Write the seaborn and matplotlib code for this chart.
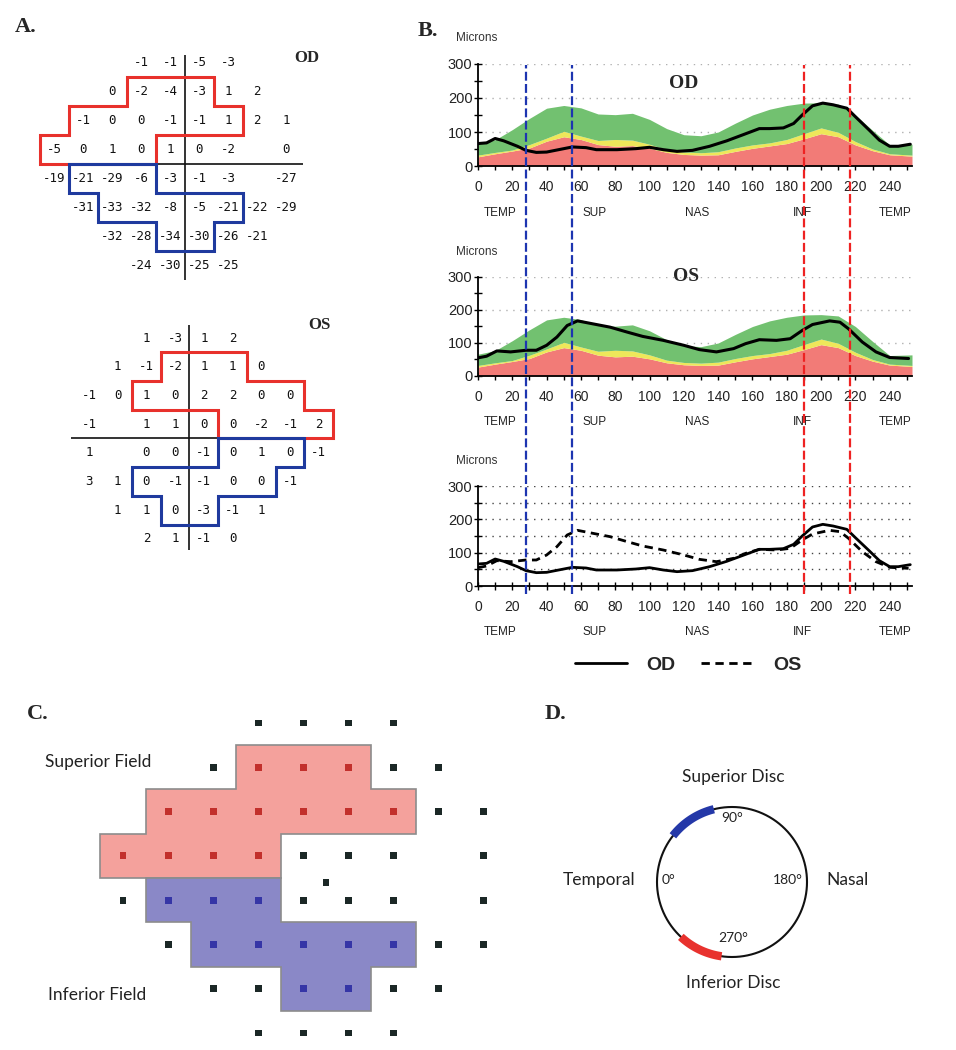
import numpy as np
import matplotlib
matplotlib.use("Agg")
import matplotlib.pyplot as plt
from matplotlib.lines import Line2D
from matplotlib.ticker import MultipleLocator
import seaborn as sns

sns.set_theme(style="white")
plt.rcParams['font.family'] = ['Liberation Sans', 'DejaVu Sans']

# ---- A. pattern deviation values (None = no test point) ----
od_grid = [
    [None, None, None, -1, -1, -5, -3, None, None],
    [None, None, 0, -2, -4, -3, 1, 2, None],
    [None, -1, 0, 0, -1, -1, 1, 2, 1],
    [-5, 0, 1, 0, 1, 0, -2, None, 0],
    [-19, -21, -29, -6, -3, -1, -3, None, -27],
    [None, -31, -33, -32, -8, -5, -21, -22, -29],
    [None, None, -32, -28, -34, -30, -26, -21, None],
    [None, None, None, -24, -30, -25, -25, None, None],
]
os_grid = [
    [None, None, 1, -3, 1, 2, None, None, None],
    [None, 1, -1, -2, 1, 1, 0, None, None],
    [-1, 0, 1, 0, 2, 2, 0, 0, None],
    [-1, None, 1, 1, 0, 0, -2, -1, 2],
    [1, None, 0, 0, -1, 0, 1, 0, -1],
    [3, 1, 0, -1, -1, 0, 0, -1, None],
    [None, 1, 1, 0, -3, -1, 1, None, None],
    [None, None, 2, 1, -1, 0, None, None, None],
]
# clusters: (row, first col, last col)
od_superior = [(1, 3, 5), (2, 1, 6), (3, 0, 3)]
od_inferior = [(4, 1, 3), (5, 2, 6), (6, 4, 5)]
os_superior = [(1, 3, 5), (2, 2, 7), (3, 5, 8)]
os_inferior = [(4, 5, 7), (5, 2, 6), (6, 3, 4)]

# ---- B. TSNIT RNFL thickness (microns) ----
angle = [0, 10, 20, 30, 40, 50, 60, 70, 80, 90, 100, 110, 120, 130, 140,
         150, 160, 170, 180, 190, 200, 210, 220, 230, 240, 253]
norm_p1 = [27, 36, 44, 53, 73, 86, 78, 63, 58, 60, 52, 40, 34, 32, 33,
           43, 52, 59, 66, 80, 95, 86, 62, 45, 33, 29]
norm_p5 = [32, 40, 47, 63, 82, 102, 88, 75, 78, 76, 64, 48, 41, 39, 42,
           53, 62, 68, 78, 95, 112, 99, 72, 50, 36, 32]
norm_p95 = [66, 77, 107, 140, 170, 178, 171, 153, 151, 155, 137, 110, 92, 89, 100,
            126, 150, 167, 178, 185, 186, 182, 150, 105, 62, 64]
od_x = [0, 5, 10, 15, 23, 28, 34, 40, 48, 55, 63, 69, 81, 92, 100, 108, 116, 125,
        135, 145, 154, 164, 170, 178, 184, 189, 195, 201, 207, 215, 220, 228, 234,
        240, 245, 252]
od_y = [66, 68, 81, 74, 58, 46, 40, 41, 49, 56, 54, 48, 48, 51, 55, 48, 43, 46,
        58, 74, 91, 110, 110, 112, 125, 150, 177, 185, 180, 170, 145, 106, 76,
        58, 58, 64]
os_x = [0, 5, 11, 19, 28, 34, 40, 46, 52, 58, 65, 77, 87, 96, 108, 120, 129, 139,
        149, 156, 164, 174, 182, 189, 195, 205, 211, 216, 224, 232, 240, 251]
os_y = [55, 60, 76, 73, 78, 78, 93, 118, 153, 167, 160, 148, 133, 120, 108, 93,
        80, 73, 83, 98, 110, 108, 113, 138, 156, 167, 163, 143, 103, 73, 56, 53]
tick_x = list(range(0, 241, 20))
sector_names = ['TEMP', 'SUP', 'NAS', 'INF', 'TEMP']
sector_pos = [13, 68, 128, 189, 243]
sup_lines = [28, 55]
inf_lines = [190, 217]

# ---- D. disc sectors (degrees, 0 = temporal, 90 = superior) ----
sup_disc = (38, 76)
inf_disc = (278, 313)

RED = '#e8312c'
BLUE = '#1f3a9e'
W, H = 956, 1050
fig = plt.figure(figsize=(W / 100, H / 100), dpi=100)
fig.patch.set_facecolor('white')


def px_axes(x0, y0, x1, y1):
    ax = fig.add_axes([x0 / W, 1 - y1 / H, (x1 - x0) / W, (y1 - y0) / H])
    ax.patch.set_alpha(0)
    return ax


def ftext(x, y, s, **kw):
    fig.text(x / W, 1 - y / H, s, **kw)


def outline(cells):
    xs, ys = [], []
    for r, a, b in cells:
        xs += [b + 0.5, b + 0.5]
        ys += [r - 0.5, r + 0.5]
    for r, a, b in reversed(cells):
        xs += [a - 0.5, a - 0.5]
        ys += [r + 0.5, r - 0.5]
    return xs + [xs[0]], ys + [ys[0]]


def inside(r, c, cells):
    return any(r == rr and a <= c <= b for rr, a, b in cells)


serif = dict(family=['Liberation Serif', 'DejaVu Serif'], weight='bold')

# ---------------- A ----------------
def field_grid(ax, grid, sup, inf, vx, hx, vy):
    for r, row in enumerate(grid):
        for c, v in enumerate(row):
            if v is not None:
                ax.text(c, r, str(v), ha='center', va='center',
                        family='DejaVu Sans Mono', fontsize=9, color='#111')
    ax.vlines(vx, vy[0], vy[1], color='#111', lw=1.2)
    ax.hlines(3.5, hx[0], hx[1], color='#111', lw=1.2)
    for cells, col in [(sup, RED), (inf, BLUE)]:
        xs, ys = outline(cells)
        ax.plot(xs, ys, color=col, lw=2.2, solid_joinstyle='miter')
    ax.set_xlim(-1.5, 9.5)
    ax.set_ylim(8.5, -1.5)
    ax.axis('off')


ax_od = px_axes(10.5, 19.65, 329.5, 308.65)
field_grid(ax_od, od_grid, od_superior, od_inferior, 4.5, (-0.38, 8.6), (-0.28, 7.5))
ax_os = px_axes(45.95, 294.95, 361.65, 581.95)
field_grid(ax_os, os_grid, os_superior, os_inferior, 3.5, (-0.63, 4.47), (-0.45, 7.4))
ftext(15, 27, 'A.', ha='left', va='center', fontsize=16, **serif)
ftext(307, 58, 'OD', ha='center', va='center', fontsize=12, **serif)
ftext(319, 325, 'OS', ha='center', va='center', fontsize=12, **serif)

# ---------------- B ----------------
def tsnit_axes(y_top, y_bot, dotted, grid_col):
    ax = px_axes(478, y_top, 912, y_bot)
    ax.set_xlim(0, 253)
    ax.set_ylim(0, 300)
    for g in dotted:
        ax.axhline(g, color=grid_col, lw=1, ls=(0, (1, 4)), zorder=0)
    ax.set_xticks(tick_x)
    ax.set_yticks([0, 100, 200, 300])
    ax.xaxis.set_minor_locator(MultipleLocator(10))
    ax.yaxis.set_minor_locator(MultipleLocator(50))
    ax.tick_params(which='both', bottom=True, left=True, direction='inout',
                   length=6, width=1, color='black', labelcolor='#222')
    ax.tick_params(axis='x', labelsize=10, pad=7)
    ax.tick_params(axis='y', labelsize=10.5, pad=1)
    sns.despine(ax=ax)
    for s in ['left', 'bottom']:
        ax.spines[s].set_color('black')
        ax.spines[s].set_linewidth(1.3)
    for name, xp in zip(sector_names, sector_pos):
        ax.text(xp, -0.46, name, transform=ax.get_xaxis_transform(),
                ha='center', va='center', fontsize=8.5, color='#222')
    ax.text(-0.004, 1.25, 'Microns', transform=ax.transAxes, ha='center',
            va='center', fontsize=8.5, color='#333')
    return ax


def norm_bands(ax):
    ax.fill_between(angle, 0, norm_p1, color='#f27b77', lw=0, zorder=1)
    ax.fill_between(angle, norm_p1, norm_p5, color='#eee75a', lw=0, zorder=1)
    ax.fill_between(angle, norm_p5, norm_p95, color='#72c170', lw=0, zorder=1)


ax1 = tsnit_axes(64, 166, [100, 200, 300], '#b0b0b0')
norm_bands(ax1)
sns.lineplot(x=od_x, y=od_y, ax=ax1, color='black', lw=2.2, zorder=3)
ax1.text(120, 244, 'OD', ha='center', va='center', fontsize=14, **serif)

ax2 = tsnit_axes(277, 376, [100, 200, 300], '#b0b0b0')
norm_bands(ax2)
sns.lineplot(x=os_x, y=os_y, ax=ax2, color='black', lw=2.2, zorder=3)
ax2.text(121, 300, 'OS', ha='center', va='center', fontsize=14, **serif)

ax3 = tsnit_axes(486, 586, list(range(50, 301, 50)), '#444444')
sns.lineplot(x=od_x, y=od_y, ax=ax3, color='black', lw=2, zorder=3)
sns.lineplot(x=os_x, y=os_y, ax=ax3, color='black', lw=2, ls=(0, (3, 2)), zorder=3)

fig.legend(handles=[Line2D([], [], color='black', lw=2, label='OD'),
                    Line2D([], [], color='black', lw=2, ls=(0, (3, 2)), label='OS')],
           loc='center', bbox_to_anchor=(688 / W, 1 - 665 / H), ncol=2,
           frameon=False, prop={'weight': 'bold', 'size': 14},
           handlelength=2.7, columnspacing=1.3, handletextpad=1.0)

ax_v = px_axes(478, 65, 912, 594)
ax_v.set_xlim(0, 253)
ax_v.set_ylim(0, 1)
ax_v.axis('off')
for xv in sup_lines:
    ax_v.axvline(xv, color='#1d35b0', lw=1.6, ls=(0, (4, 1.5)))
for xv in inf_lines:
    ax_v.axvline(xv, color='#ee2222', lw=1.6, ls=(0, (4, 1.5)))
ftext(418, 31, 'B.', ha='left', va='center', fontsize=16, **serif)

# ---------------- C ----------------
ax_c = px_axes(55.35, 678.7, 551.45, 1050.8)
for cells, fc in [(od_superior, '#f4a19c'), (od_inferior, '#8a88c7')]:
    xs, ys = outline(cells)
    ax_c.fill(xs, ys, facecolor=fc, edgecolor='#8c8c8c', lw=1.2, zorder=1)
dx, dy, kind = [], [], []
for r, row in enumerate(od_grid):
    for c, v in enumerate(row):
        if v is None:
            continue
        dx.append(c)
        dy.append(r)
        if inside(r, c, od_superior):
            kind.append('sup')
        elif inside(r, c, od_inferior):
            kind.append('inf')
        else:
            kind.append('out')
dx.append(4.5)
dy.append(3.6)
kind.append('out')
sns.scatterplot(x=dx, y=dy, hue=kind, ax=ax_c, marker='s', s=24, linewidth=0,
                palette={'sup': '#c2302c', 'inf': '#3535a6', 'out': '#1b2826'},
                legend=False, zorder=3)
ax_c.set_xlim(-1.5, 9.5)
ax_c.set_ylim(7.4, -1.0)
ax_c.axis('off')
lato = dict(family=['Lato', 'DejaVu Sans'])
ftext(27, 714, 'C.', ha='left', va='center', fontsize=16, **serif)
ftext(45, 762, 'Superior Field', ha='left', va='center', fontsize=12.5, color='#222', **lato)
ftext(48, 995, 'Inferior Field', ha='left', va='center', fontsize=12.5, color='#222', **lato)

# ---------------- D ----------------
ax_d = px_axes(632, 782, 832, 982)
t = np.radians(np.linspace(0, 360, 361))
ax_d.plot(np.cos(t), np.sin(t), color='#111', lw=1.5)
for (a0, a1), col in [(sup_disc, '#2438a8'), (inf_disc, '#e8322e')]:
    th = np.radians(180 - np.linspace(a0, a1, 60))
    ax_d.plot(np.cos(th), np.sin(th), color=col, lw=6, solid_capstyle='butt')
ax_d.set_xlim(-1.3333, 1.3333)
ax_d.set_ylim(-1.3333, 1.3333)
ax_d.axis('off')
ftext(545, 714, 'D.', ha='left', va='center', fontsize=16, **serif)
ftext(733, 777, 'Superior Disc', ha='center', va='center', fontsize=12.5, color='#222', **lato)
ftext(733, 983, 'Inferior Disc', ha='center', va='center', fontsize=12.5, color='#222', **lato)
ftext(599, 880, 'Temporal', ha='center', va='center', fontsize=12.5, color='#222', **lato)
ftext(848, 880, 'Nasal', ha='center', va='center', fontsize=12.5, color='#222', **lato)
ftext(668, 880, '0°', ha='center', va='center', fontsize=10, color='#222', **lato)
ftext(788, 880, '180°', ha='center', va='center', fontsize=10, color='#222', **lato)
ftext(732, 818, '90°', ha='center', va='center', fontsize=10, color='#222', **lato)
ftext(733, 938, '270°', ha='center', va='center', fontsize=10, color='#222', **lato)

fig.savefig('out.png', dpi=100, facecolor='white')
